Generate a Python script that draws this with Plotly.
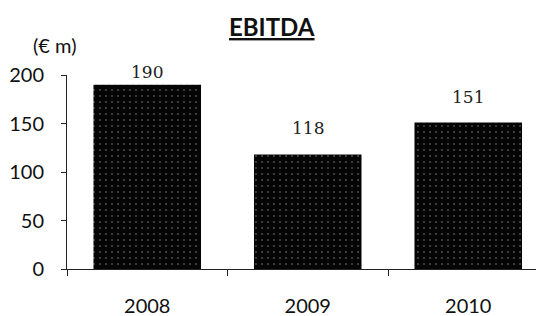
import plotly.graph_objects as go

years = ["2008", "2009", "2010"]
ebitda = [190, 118, 151]
y_ticks = [0, 50, 100, 150, 200]

fig = go.Figure()
fig.add_trace(go.Bar(
    x=years, y=ebitda, width=0.67,
    marker=dict(color="#050505", line=dict(width=0),
                pattern=dict(shape=".", fgcolor="#8a8a8a", bgcolor="#050505",
                             size=6, solidity=0.1)),
    hoverinfo="skip",
))
shifts = [13, 27, 26]
for i, (v, s) in enumerate(zip(ebitda, shifts)):
    fig.add_annotation(x=i, y=v, text=str(v), showarrow=False, yshift=s,
                       yanchor="middle",
                       font=dict(family="DejaVu Serif", size=17, color="#222"))

# page body has an 8px margin, so the figure is sized to fit the window after it
fig.update_layout(
    width=536, height=308,
    margin=dict(l=59, r=0, t=67, b=47, autoexpand=False),
    paper_bgcolor="white", plot_bgcolor="white",
    showlegend=False,
)
fig.add_annotation(xref="paper", yref="paper", x=0.43, y=1.336, text="<b><u>EBITDA</u></b>",
                   showarrow=False, xanchor="center", yanchor="top",
                   font=dict(family="Lato", size=24, color="#111"))
fig.update_yaxes(range=[0, 200], tickvals=y_ticks, showgrid=False, zeroline=False,
                 showline=True, linecolor="#222", linewidth=1,
                 ticks="outside", ticklen=5, tickcolor="#222",
                 ticklabelstandoff=13,
                 tickfont=dict(family="Lato", size=20, color="#111"))
fig.update_xaxes(type="category", range=[-0.5, 2.472], showgrid=False, showline=True,
                 linecolor="#222", linewidth=1,
                 ticks="outside", ticklen=6, tickcolor="#222", tickson="boundaries",
                 ticklabelstandoff=19, tickangle=0,
                 tickfont=dict(family="Lato", size=20, color="#111"))
fig.add_annotation(xref="paper", yref="paper", x=-0.025, y=1.155, text="(€ m)",
                   showarrow=False, xanchor="center", yanchor="middle",
                   font=dict(family="Lato", size=20, color="#111"))

fig.write_html("out.html")
